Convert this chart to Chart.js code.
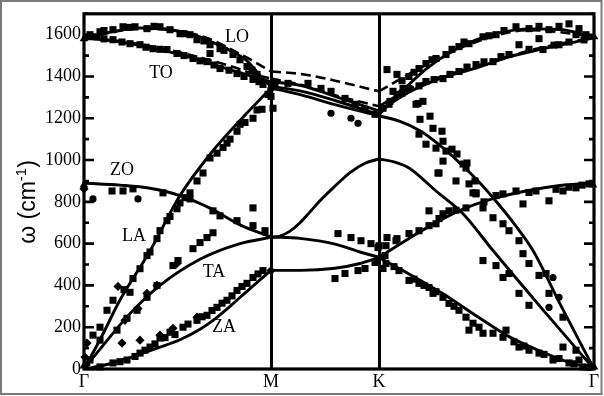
<!DOCTYPE html>
<html><head><meta charset="utf-8">
<script src="https://cdn.jsdelivr.net/npm/chart.js@4/dist/chart.umd.min.js"></script>
<style>html,body{margin:0;padding:0;background:#fff;}canvas{display:block;}</style>
</head><body>
<canvas id="c" width="604" height="396"></canvas>
<script>
// Path coordinate (proportional to |ΓM| : |MK| : |KΓ|)
const pathTicks = [0, 187, 295, 510];
const pathLabels = ['Γ', 'M', 'K', 'Γ'];
const yTicks = [0, 200, 400, 600, 800, 1000, 1200, 1400, 1600];

// Solid dispersion curves (x along path, ω in cm-1)
const LO_X = [0,26,56,86,116,129,146,163,176,187, 217,251,295, 316,342,366,392,416,446,476,510];
const LO_W = [1582,1612,1632,1625,1590,1562,1525,1475,1405,1352, 1330,1285,1217, 1320,1435,1515,1575,1610,1628,1625,1590];
const TO_X = [0,21,46,96,146,179,187, 217,251,295, 325,356,392,426,459,486,510];
const TO_W = [1582,1576,1557,1505,1433,1385,1375, 1357,1305,1235, 1325,1390,1440,1495,1533,1560,1585];
const LA_X = [0,16,36,66,96,129,156,187, 217,251,295, 316,336,356,376,396,416,431,449,476,510];
const LA_W = [0,140,330,565,830,1045,1190,1345, 1312,1265,1212, 1185,1140,1070,985,890,780,690,567,312,0];
const TA_X = [0,16,46,76,116,156,187, 196,206,216,226,236,251,266,281,295, 311,325,352,379,409,459,510];
const TA_W = [0,95,265,400,525,600,630, 636,660,700,752,805,875,940,985,1005, 990,962,852,743,567,283,0];
const ZO_X = [0,36,66,96,126,156,187, 216,251,276,295, 325,346,375,409,442,476,510];
const ZO_W = [890,880,865,830,770,690,632, 625,598,560,535, 625,685,757,815,852,878,890];
const ZA_X = [0,26,46,76,96,116,131,146,166,187, 216,251,276,295, 325,359,392,425,459,486,510];
const ZA_W = [0,25,55,105,140,190,240,300,385,472, 472,482,505,533, 455,360,255,155,80,30,0];

// Dashed curves (second calculation)
const D1_X = [0,56,116,163,187, 217,251,295, 336,392,446,510];
const D1_W = [1585,1628,1595,1490,1424, 1412,1380,1329, 1440,1565,1622,1592];
const D2_X = [0,46,96,146,171,187, 217,251,295, 325,392,459,510];
const D2_W = [1585,1562,1515,1450,1410,1390, 1360,1310,1257, 1340,1450,1540,1585];

// Experimental points
const SQ_X = [6,16,29,39,51,63,76,86,96,106,113,126,126,136,149,163,173,
  13,29,46,56,69,83,93,109,123,136,153,169,179,184,189,
  178,169,156,153,143,133,126,119,106,96,93,83,76,73,63,49,46,29,23,16,9,6,
  28,39,49,79,106,129,136,153,169,181,169,
  129,123,116,109,94,89,73,63,53,43,33,16,
  179,169,163,153,143,133,123,113,99,86,76,66,56,43,29,16,
  191,204,224,237,247,261,271,281,291,187,254,267,277,287,294,251,261,274,281,
  303,313,299,306,313,319,334,339,336,346,349,358,354,303,313,295,301,291,299,
  325,335,342,352,362,375,385,399,412,432,445,465,485,495,502,
  309,325,342,359,375,392,409,425,435,455,459,475,492,305,332,
  368,373,379,383,391,389,335,342,352,359,362,382,359,355,372,385,392,399,409,419,425,435,439,445,455,462,465,479,
  399,412,419,425,435,445,479,492,495,
  419,432,439,452,465,479,492,505,302,312,325,335,345,352,359,365,382,392,345,
  302,315,325,335,345,349,359,365,375,382,389,385,399,409,422,419,435,445,455,469,485,499,
  36,51,61,71,81,91,104,118,128,138,148,158,174,
  40,56,66,86,101,113,139,146,161,173,
  310,330,340,352,370,395,430,440,460,475,490,505,
  355,372,400,412,445,472,485,498,
  318,330,348,368,380,405,420,455,475,
  318,335,350,366,383,400,417,445,470,485,500,
  20,45,70,100,120,140,156,168,
  20,38,62,76,100,116,130,145,160,175];
const SQ_W = [1600,1614,1624,1638,1638,1629,1638,1624,1605,1600,1576,1552,1510,1533,1505,1448,1410,
  1590,1576,1557,1552,1533,1529,1510,1486,1471,1438,1414,1386,1362,1314,1248,
  1243,1200,1171,1138,1081,1033,1010,938,843,795,767,710,662,624,543,433,367,329,281,200,162,43,
  852,852,862,843,814,757,733,710,686,662,771,
  652,629,605,576,519,495,400,343,281,243,186,138,
  471,438,410,376,329,295,257,233,200,176,148,105,76,43,29,10,
  1367,1367,1367,1343,1329,1295,1267,1243,1219,1305,648,629,614,600,581,433,457,471,481,
  1433,1410,1248,1281,1314,1343,1271,1281,1195,1210,1152,1138,938,629,624,590,543,510,481,
  1400,1438,1462,1486,1505,1543,1557,1590,1600,1638,1629,1624,1652,1629,1600,
  1329,1343,1376,1390,1424,1457,1471,1505,1552,1581,1529,1552,1600,1267,1267,
  1052,1029,981,986,900,843,1124,1076,1057,1090,1043,962,995,938,900,886,843,771,724,695,662,614,552,505,448,457,362,248,
  519,495,438,457,362,305,105,90,43,
  838,852,790,852,805,852,867,886,590,614,648,662,686,695,743,757,771,838,757,
  505,471,424,410,390,362,343,314,281,248,219,186,171,171,186,152,105,90,76,43,29,10,
  35,60,90,120,150,165,215,250,280,315,350,395,455,
  380,480,560,730,820,900,1060,1100,1180,1240,
  490,430,400,370,300,200,130,110,70,50,25,8,
  720,760,800,830,845,860,870,880,
  1380,1420,1480,1530,1565,1595,1620,1640,1640,
  1320,1355,1385,1410,1445,1470,1495,1530,1550,1565,1575,
  1620,1635,1640,1605,1570,1525,1480,1430,
  1580,1565,1540,1530,1500,1475,1455,1430,1400,1375];
const CI_X = [9,54,187,247,267,274,469,475,465];
const CI_W = [814,814,1343,1224,1200,1176,438,343,295];
const DI_X = [0,34,3,1,93,73,63,54,41,38,56,76,89,113,187,2];
const DI_W = [862,395,124,57,505,400,362,290,233,124,138,162,195,248,471,19];
const TR_X = [0,510,509,0,510,0];
const TR_W = [1581,1590,881,14,10,881];

// Branch labels
const annText = ['LO', 'TO', 'ZO', 'LA', 'TA', 'ZA'];
const annX = [153, 77, 38, 50, 130, 140];
const annW = [1586, 1414, 952, 633, 462, 200];

function pts(xs, ws, lo, hi) {
  const out = [];
  xs.forEach((x, i) => { if (x >= lo && x <= hi) out.push({x: x, y: ws[i]}); });
  return out;
}
function branches(xs, ws) {
  const out = [];
  for (let k = 0; k < pathTicks.length - 1; k++) out.push(pts(xs, ws, pathTicks[k], pathTicks[k + 1]));
  return out;
}
const datasets = [];
function addCurve(xs, ws, dashed) {
  branches(xs, ws).forEach(d => datasets.push({
    data: d, showLine: true, borderColor: '#000', borderWidth: dashed ? 2.6 : 2.9,
    borderDash: dashed ? [10, 5] : [], pointRadius: 0, cubicInterpolationMode: 'monotone', fill: false
  }));
}
function addMarks(xs, ws, style, r) {
  datasets.push({
    data: pts(xs, ws, -1e9, 1e9), showLine: false, pointStyle: style, pointRadius: r,
    backgroundColor: '#000', borderColor: '#000', borderWidth: 0, clip: false
  });
}
addMarks(SQ_X, SQ_W, 'rect', 5);
addMarks(CI_X, CI_W, 'circle', 3.6);
addMarks(DI_X, DI_W, 'rectRot', 4.6);
addMarks(TR_X, TR_W, 'triangle', 5);
[[LO_X, LO_W], [TO_X, TO_W], [LA_X, LA_W], [TA_X, TA_W], [ZO_X, ZO_W], [ZA_X, ZA_W]].forEach(c => addCurve(c[0], c[1], false));
addCurve(D1_X, D1_W, true);
addCurve(D2_X, D2_W, true);

const decor = {
  id: 'decor',
  beforeDraw(chart) {
    const ctx = chart.ctx;
    ctx.save(); ctx.fillStyle = '#fff'; ctx.fillRect(0, 0, chart.width, chart.height); ctx.restore();
  },
  afterDraw(chart) {
    const ctx = chart.ctx, a = chart.chartArea, ys = chart.scales.y, xs = chart.scales.x;
    ctx.save();
    ctx.strokeStyle = '#000'; ctx.lineWidth = 2.6;
    for (let v = 0; v <= 1700; v += 100) {
      const py = ys.getPixelForValue(v);
      const len = (v % 200 === 0) ? 10 : 5;
      ctx.beginPath();
      ctx.moveTo(a.left, py); ctx.lineTo(a.left + len, py);
      ctx.moveTo(a.right, py); ctx.lineTo(a.right - len, py);
      ctx.stroke();
    }
    ctx.lineWidth = 3.2;
    ctx.strokeRect(a.left, a.top, a.right - a.left, a.bottom - a.top);
    ctx.fillStyle = '#000'; ctx.font = '18px "Liberation Serif"';
    ctx.textAlign = 'center'; ctx.textBaseline = 'middle';
    annText.forEach((t, i) => ctx.fillText(t, xs.getPixelForValue(annX[i]), ys.getPixelForValue(annW[i])));
    ctx.translate(27, 202); ctx.rotate(-Math.PI / 2);
    const f1 = '23px "Liberation Sans"', f2 = '15px "Liberation Sans"';
    ctx.font = f1; const w1 = ctx.measureText('ω (cm').width, w3 = ctx.measureText(')').width;
    ctx.font = f2; const w2 = ctx.measureText('-1').width;
    let x0 = -(w1 + w2 + w3) / 2;
    ctx.textAlign = 'left'; ctx.textBaseline = 'alphabetic';
    ctx.font = f1; ctx.fillText('ω (cm', x0, 8);
    ctx.font = f2; ctx.fillText('-1', x0 + w1, -1);
    ctx.font = f1; ctx.fillText(')', x0 + w1 + w2, 8);
    ctx.restore();
    ctx.save(); ctx.strokeStyle = '#7a7a7a'; ctx.lineWidth = 2;
    ctx.strokeRect(1, 1, 600.5, 393); ctx.restore();
  }
};

new Chart(document.getElementById('c'), {
  type: 'scatter',
  data: { datasets: datasets },
  options: {
    responsive: false, animation: false, devicePixelRatio: 1, events: [],
    layout: { padding: { top: 12, right: 10, left: 0, bottom: 0 } },
    plugins: { legend: { display: false }, tooltip: { enabled: false } },
    scales: {
      x: {
        type: 'linear', min: 0, max: 510,
        afterBuildTicks: s => { s.ticks = pathTicks.map(v => ({ value: v })); },
        ticks: { callback: (v, i) => pathLabels[i], font: { family: 'Liberation Serif', size: 18 }, color: '#000', padding: 2, maxRotation: 0, autoSkip: false },
        grid: { color: c => (c.tick && (c.tick.value === 187 || c.tick.value === 295)) ? '#000' : 'rgba(0,0,0,0)', lineWidth: 3, drawTicks: false },
        border: { display: false },
        afterFit: s => { s.height = 27; }
      },
      y: {
        type: 'linear', min: 0, max: 1700,
        afterBuildTicks: s => { s.ticks = yTicks.map(v => ({ value: v })); },
        ticks: { callback: v => String(v), font: { family: 'Liberation Serif', size: 18 }, color: '#000', padding: 3 },
        grid: { display: false, drawTicks: false },
        border: { display: false },
        afterFit: s => { s.width = 84; }
      }
    }
  },
  plugins: [decor]
});
</script>
</body></html>
